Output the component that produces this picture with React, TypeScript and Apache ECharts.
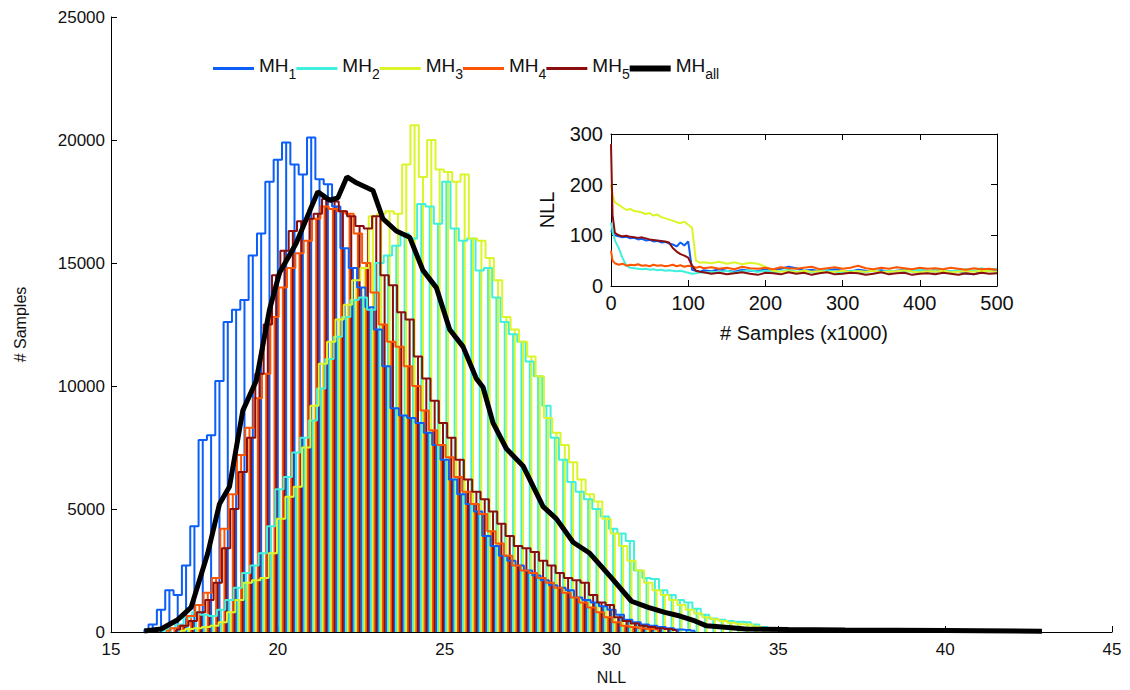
import React, { useEffect, useRef } from "react";
import * as echarts from "echarts";

// ---------- data ----------
const seriesNames = ["MH1", "MH2", "MH3", "MH4", "MH5"];
const seriesSubs = ["1", "2", "3", "4", "5"];
const allName = "MHall";
const colors = ["#0b5ef7", "#40f0dc", "#dcf52a", "#ff5500", "#8a0e0e"];

// histogram bins (NLL) : each chain has its own bin grid
const binWidth = 0.25;
const binStarts = [16.0, 16.55, 17.1, 16.65, 16.95];

const hist1 = [100, 300, 900, 1700, 1500, 2700, 4300, 7800, 8000, 10200, 12600, 13100, 13500, 15300, 16200, 18300, 19200, 19900, 19000, 18600, 20100, 18400, 18200, 17300, 15600, 14800, 14000, 13200, 12300, 10800, 9100, 8800, 8700, 8500, 8100, 7600, 7000, 6200, 5600, 5200, 4900, 3900, 3500, 3100, 2900, 2700, 2500, 2300, 2100, 1900, 1800, 1700, 1400, 1300, 1200, 1050, 900, 700, 500, 400, 300, 250, 200, 150, 100, 80, 50];
const hist2 = [50, 150, 300, 600, 800, 700, 650, 900, 1300, 1800, 2400, 2700, 3200, 4300, 5800, 6300, 7300, 7900, 8600, 9900, 11100, 12000, 12800, 13500, 13600, 13100, 15000, 15300, 15700, 16200, 16000, 17400, 17300, 16600, 18300, 16400, 15900, 16000, 14700, 14800, 13600, 12600, 12100, 11800, 11000, 10400, 9200, 7900, 7000, 6100, 5700, 5400, 5000, 4700, 4200, 4000, 3700, 2500, 2200, 2150, 1700, 1500, 1300, 1200, 950, 700, 550, 500, 450, 420, 400, 300, 200, 150, 100, 80, 50];
const hist3 = [50, 120, 150, 200, 250, 400, 800, 1300, 2000, 2100, 2200, 3200, 4600, 5500, 5900, 7500, 9200, 10900, 11800, 12700, 13300, 14300, 14800, 16900, 17000, 17100, 17000, 19000, 20600, 18500, 20000, 18800, 18700, 18300, 18600, 16000, 15900, 15200, 14300, 12800, 12300, 11800, 11200, 10400, 8700, 8100, 7600, 6900, 6200, 5600, 5300, 4600, 4000, 3500, 2900, 2500, 2000, 1700, 1500, 1300, 1100, 900, 750, 600, 520, 450, 380, 330, 300, 220, 160, 120, 80, 50];
const hist4 = [50, 150, 250, 650, 1100, 1600, 2200, 4200, 5600, 7200, 8300, 9500, 10500, 12800, 14000, 14800, 15400, 15900, 16800, 17300, 17200, 17100, 17000, 16200, 15000, 13800, 12500, 11800, 11600, 10800, 10000, 9000, 8200, 7600, 7100, 6300, 5700, 5200, 4800, 4100, 3600, 3100, 2700, 2500, 2400, 2200, 2000, 1800, 1600, 1400, 1200, 1000, 800, 600, 400, 250, 200, 150, 120, 100];
const hist5 = [100, 250, 450, 800, 1300, 2000, 3400, 5000, 6500, 7900, 10500, 12500, 14500, 15500, 16300, 16700, 16800, 17000, 17600, 17500, 17100, 16900, 16500, 16400, 16900, 14500, 14100, 13000, 12700, 11200, 10300, 9400, 8500, 7900, 7000, 6200, 5700, 5400, 4900, 4400, 3900, 3500, 3400, 3250, 2900, 2700, 2400, 2200, 2100, 2000, 1500, 1200, 1100, 600, 450, 350, 250, 200, 150, 120, 80];
const hists = [hist1, hist2, hist3, hist4, hist5];

// pooled histogram (MH_all)
const allX = [16.0, 16.5, 17.0, 17.4, 17.9, 18.25, 18.55, 18.95, 19.35, 19.75, 20.05, 20.55, 20.95, 21.2, 21.55, 21.8, 22.07, 22.37, 22.85, 23.15, 23.55, 23.95, 24.35, 24.75, 25.15, 25.55, 25.95, 26.15, 26.45, 26.85, 27.35, 27.95, 28.35, 28.85, 29.35, 30.0, 30.6, 31.1, 31.6, 32.05, 32.5, 32.85, 33.5, 34.0, 35.3, 37.0, 38.5, 40.0, 41.0, 42.9];
const allY = [40, 120, 500, 1000, 3200, 5200, 5900, 9000, 10200, 13100, 14600, 15800, 17100, 17900, 17550, 17650, 18500, 18250, 17950, 16800, 16300, 16050, 14700, 14000, 12300, 11600, 10300, 9950, 8500, 7450, 6750, 5100, 4600, 3650, 3200, 2200, 1250, 1000, 800, 650, 450, 250, 180, 120, 100, 80, 70, 60, 50, 30];

// inset traces: NLL vs # samples (x1000)
const insetX = [0, 2, 5, 10, 15, 20, 25, 30, 35, 40, 45, 50, 55, 60, 65, 70, 75, 80, 85, 90, 95, 100, 105, 110, 115, 120,
  130, 140, 150, 160, 170, 180, 190, 200, 210, 220, 230, 240, 250, 260, 270, 280, 290, 300, 310, 320, 330, 340, 350, 360, 370, 380, 390, 400, 410, 420, 430, 440, 450, 460, 470, 480, 490, 500];
const trace1 = [110, 105, 100, 98, 96, 97, 94, 95, 92, 93, 90, 91, 88, 89, 86, 87, 84, 82, 78, 86, 80, 88, 32, 30, 28, 31,
  29, 33, 30, 28, 32, 30, 29, 33, 31, 34, 38, 35, 30, 32, 29, 31, 33, 30, 28, 32, 30, 29, 31, 28, 30, 32, 29, 31, 30, 28, 31, 29, 30, 24, 23, 28, 30, 29];
const trace2 = [125, 110, 90, 75, 55, 40, 36, 35, 34, 33, 34, 32, 33, 31, 32, 30, 31, 30, 29, 30, 28, 26, 24, 25, 27, 26,
  28, 27, 30, 26, 29, 31, 28, 30, 27, 29, 32, 28, 30, 27, 29, 31, 28, 26, 30, 29, 27, 31, 28, 30, 29, 27, 30, 32, 28, 34, 30, 29, 31, 33, 30, 35, 32, 34];
const trace3 = [200, 180, 165, 160, 155, 150, 152, 148, 147, 145, 142, 144, 139, 141, 136, 134, 131, 129, 126, 124, 127, 121, 115, 50, 46, 47,
  45, 48, 44, 47, 43, 46, 44, 38, 30, 28, 29, 27, 30, 28, 29, 27, 28, 30, 27, 29, 28, 30, 27, 28, 29, 31, 28, 27, 29, 28, 30, 27, 28, 29, 28, 30, 29, 28];
const trace4 = [70, 50, 45, 42, 44, 40, 42, 41, 43, 40, 41, 39, 42, 40, 41, 39, 40, 42, 39, 41, 38, 40, 39, 36, 38, 35,
  37, 34, 36, 33, 38, 35, 34, 36, 33, 37, 35, 34, 36, 38, 33, 35, 37, 34, 36, 40, 35, 33, 36, 34, 37, 35, 33, 36, 34, 35, 33, 36, 34, 32, 35, 33, 34, 32];
const trace5 = [280, 140, 105, 100, 98, 99, 97, 96, 95, 96, 94, 92, 91, 90, 89, 88, 86, 75, 68, 63, 60, 56, 40, 30, 28, 27,
  24, 26, 23, 25, 27, 24, 22, 26, 25, 23, 27, 24, 26, 22, 25, 27, 23, 24, 26, 25, 22, 24, 27, 23, 25, 26, 22, 24, 25, 23, 26, 24, 22, 25, 23, 26, 24, 25];
const traces = [trace1, trace2, trace3, trace4, trace5];

const FONT = "'Liberation Sans', Arial, sans-serif";
const TXT = "#111";

export default function App() {
  const ref = useRef<HTMLDivElement>(null);
  useEffect(() => {
    if (!ref.current) return;
    const chart = echarts.init(ref.current, null, { renderer: "svg" });

    const series: any[] = [];
    hists.forEach((h, s) => {
      series.push({
        type: "bar",
        name: seriesNames[s] + " bins",
        xAxisIndex: 0,
        yAxisIndex: 0,
        data: h.map((v, i) => [binStarts[s] + i * binWidth, v]),
        barWidth: 2,
        barGap: "-100%",
        itemStyle: { color: colors[s] },
        silent: true,
      });
    });
    hists.forEach((h, s) => {
      series.push({
        type: "line",
        name: seriesNames[s],
        xAxisIndex: 0,
        yAxisIndex: 0,
        step: "middle",
        symbol: "none",
        data: h.map((v, i) => [binStarts[s] + i * binWidth, v]),
        lineStyle: { color: colors[s], width: 2 },
        itemStyle: { color: colors[s] },
        silent: true,
      });
    });
    series.push({
      type: "line",
      name: allName,
      xAxisIndex: 0,
      yAxisIndex: 0,
      symbol: "none",
      data: allX.map((x, i) => [x, allY[i]]),
      lineStyle: { color: "#000", width: 5 },
      itemStyle: { color: "#000" },
      silent: true,
    });
    traces.forEach((t, s) => {
      series.push({
        type: "line",
        name: seriesNames[s] + " trace",
        xAxisIndex: 1,
        yAxisIndex: 1,
        symbol: "none",
        data: insetX.map((x, i) => [x, t[i]]),
        lineStyle: { color: colors[s], width: 2 },
        itemStyle: { color: colors[s] },
        silent: true,
      });
    });

    const axisCommon = {
      axisLine: { show: true, onZero: false, lineStyle: { color: "#000", width: 1 } },
      axisTick: { show: true, inside: true, length: 6, lineStyle: { color: "#000" } },
      splitLine: { show: false },
    };

    const subFor: Record<string, string> = {};
    seriesNames.forEach((n, i) => (subFor[n] = seriesSubs[i]));
    subFor[allName] = "all";

    const thin = "path://M0,0 L41,0 L41,3 L0,3 Z";
    const thick = "path://M0,0 L41,0 L41,6 L0,6 Z";
    const legendData = [
      ...seriesNames.map((n, i) => ({ name: n, icon: thin, itemStyle: { color: colors[i] } })),
      { name: allName, icon: thick, itemStyle: { color: "#000" } },
    ];

    chart.setOption({
      animation: false,
      backgroundColor: "#fff",
      textStyle: { fontFamily: FONT },
      legend: {
        data: legendData,
        left: 213,
        top: 56,
        padding: 0,
        itemWidth: 41,
        itemHeight: 14,
        itemGap: 0,
        selectedMode: false,
        formatter: (name: string) => `{m|MH}{s|${subFor[name]}}`,
        textStyle: {
          color: TXT,
          fontFamily: FONT,
          rich: {
            m: { fontSize: 19, color: TXT, fontFamily: FONT, verticalAlign: "bottom", padding: [0, 0, 6, 0] },
            s: { fontSize: 14, color: TXT, fontFamily: FONT, verticalAlign: "bottom" },
          },
        },
      },
      grid: [
        { left: 111, right: 18, top: 17, bottom: 57 },
        { left: 611, right: 133, top: 134, bottom: 404 },
      ],
      xAxis: [
        {
          ...axisCommon,
          gridIndex: 0,
          type: "value",
          min: 15,
          max: 45,
          interval: 5,
          axisLabel: { fontSize: 17, color: TXT, margin: 9, fontFamily: FONT },
          name: "NLL",
          nameLocation: "middle",
          nameGap: 37,
          nameTextStyle: { fontSize: 16, color: TXT, fontFamily: FONT },
        },
        {
          ...axisCommon,
          gridIndex: 1,
          type: "value",
          position: "bottom",
          min: 0,
          max: 500,
          interval: 100,
          axisLabel: { fontSize: 20, color: TXT, margin: 7, fontFamily: FONT },
          name: "# Samples (x1000)",
          nameLocation: "middle",
          nameGap: 37,
          nameTextStyle: { fontSize: 20, color: TXT, fontFamily: FONT },
        },
        {
          ...axisCommon,
          gridIndex: 1,
          type: "value",
          position: "top",
          min: 0,
          max: 500,
          interval: 100,
          axisLabel: { show: false },
        },
      ],
      yAxis: [
        {
          ...axisCommon,
          gridIndex: 0,
          type: "value",
          min: 0,
          max: 25000,
          interval: 5000,
          axisLabel: { fontSize: 17, color: TXT, margin: 6, fontFamily: FONT, formatter: (v: number) => String(v) },
          name: "# Samples",
          nameLocation: "middle",
          nameGap: 83,
          nameTextStyle: { fontSize: 16, color: TXT, fontFamily: FONT },
        },
        {
          ...axisCommon,
          gridIndex: 1,
          type: "value",
          position: "left",
          min: 0,
          max: 300,
          interval: 100,
          axisLabel: { fontSize: 20, color: TXT, margin: 8, fontFamily: FONT },
          name: "NLL",
          nameLocation: "middle",
          nameGap: 54,
          nameTextStyle: { fontSize: 20, color: TXT, fontFamily: FONT },
        },
        {
          ...axisCommon,
          gridIndex: 1,
          type: "value",
          position: "right",
          min: 0,
          max: 300,
          interval: 100,
          axisLabel: { show: false },
        },
      ],
      series,
    });
    return () => chart.dispose();
  }, []);
  return (
    <div
      ref={ref}
      style={{ position: "absolute", left: 0, top: 0, width: 1130, height: 690, background: "#fff" }}
    />
  );
}
